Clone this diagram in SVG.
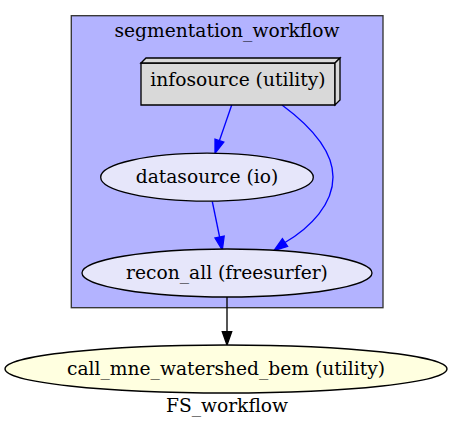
<svg xmlns="http://www.w3.org/2000/svg" width="454" height="429" viewBox="0 0 454 429">
<defs>
<style>
text{font-family:"DejaVu Serif","Liberation Serif",serif;font-size:18.67px;fill:#000;text-anchor:middle}
.node{stroke:#000;stroke-width:1.33}
.e{fill:none;stroke-width:1.33}
.blue{stroke:#0000ff}
.black{stroke:#000}
.ahb{fill:#0000ff;stroke:#0000ff;stroke-width:1.33}
.ahk{fill:#000;stroke:#000;stroke-width:1.33}
</style>
</defs>
<rect width="454" height="429" fill="#ffffff"/>
<g id="cluster_segmentation_workflow">
<rect x="71.3" y="15.7" width="311.7" height="292" fill="#b3b3ff" stroke="#333333" stroke-width="1.33"/>
<text x="227" y="36.7">segmentation_workflow</text>
</g>
<g id="connectors">
<path class="e blue" d="M231.7,105 L219.4,140.7"/>
<polygon class="ahb" points="223.8,142.2 215,153.3 215,139.2"/>
<path class="e blue" d="M282,105 C305,122 333,148 333,177 C333,204 311,227 285,242.5"/>
<polygon class="ahb" points="287.6,246.4 274,250.5 282.4,238.6"/>
<path class="e blue" d="M212.3,201.5 L219.6,237"/>
<polygon class="ahb" points="224.2,236 222.3,250 215,238"/>
<path class="e black" d="M227,297 L227,331.7"/>
<polygon class="ahk" points="222.3,331.7 227,345 231.7,331.7"/>
</g>
<g id="infosource">
<polygon class="node" fill="#d9d9d9" points="141,63 335,63 335,105 141,105"/>
<polygon class="node" fill="#d9d9d9" points="141,63 146,58 340,58 335,63"/>
<polygon class="node" fill="#d9d9d9" points="335,63 340,58 340,100 335,105"/>
<text x="238" y="86.3">infosource (utility)</text>
</g>
<g id="datasource">
<ellipse class="node" cx="207" cy="177.2" rx="106.3" ry="24" fill="#e6e6fa"/>
<text x="207" y="182.8">datasource (io)</text>
</g>
<g id="recon_all">
<ellipse class="node" cx="227" cy="273" rx="145" ry="24" fill="#e6e6fa"/>
<text x="227" y="278.6">recon_all (freesurfer)</text>
</g>
<g id="call_mne_watershed_bem">
<ellipse class="node" cx="226" cy="369" rx="221" ry="24" fill="#ffffe0"/>
<text x="226" y="374.6">call_mne_watershed_bem (utility)</text>
</g>
<text x="227" y="412">FS_workflow</text>
</svg>
